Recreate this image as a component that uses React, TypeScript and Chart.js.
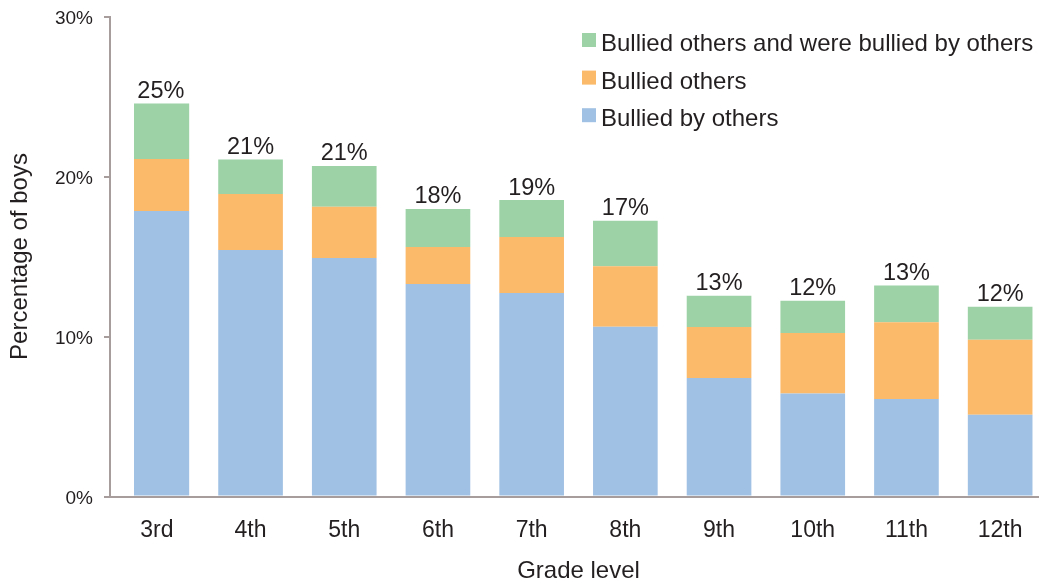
import React, { useEffect, useRef } from "react";
import { Chart, registerables } from "chart.js";

Chart.register(...registerables);

const grades = ["3rd", "4th", "5th", "6th", "7th", "8th", "9th", "10th", "11th", "12th"];
const bulliedByOthers = [17.84, 15.4, 14.9, 13.28, 12.72, 10.61, 7.4, 6.43, 6.09, 5.11];
const bulliedOthers = [3.25, 3.5, 3.21, 2.32, 3.5, 3.78, 3.2, 3.79, 4.8, 4.69];
const bulliedBoth = [3.48, 2.17, 2.55, 2.37, 2.31, 2.85, 1.95, 2.02, 2.29, 2.06];
const totalLabels = ["25%", "21%", "21%", "18%", "19%", "17%", "13%", "12%", "13%", "12%"];
const seriesNames = ["Bullied by others", "Bullied others", "Bullied others and were bullied by others"];
const yTickValues = [0, 10, 20, 30];

const BLUE = "rgb(161,193,228)";
const ORANGE = "rgb(251,185,106)";
const GREEN = "rgb(156,210,166)";
const AXIS = "#a79d9c";
const TEXT = "#231f20";
const FONT = "'Liberation Sans', Arial, sans-serif";

const totalsPlugin = {
  id: "totals",
  afterDatasetsDraw(chart: any) {
    const ctx = chart.ctx;
    const meta = chart.getDatasetMeta(2);
    ctx.save();
    ctx.font = `23.5px ${FONT}`;
    ctx.fillStyle = TEXT;
    ctx.textAlign = "center";
    ctx.textBaseline = "alphabetic";
    meta.data.forEach((el: any, i: number) => {
      const x = i === 0 ? el.x + 4 : el.x;
      ctx.fillText(totalLabels[i], x, el.y - 5.5);
    });
    ctx.restore();
  },
};

const legendPlugin = {
  id: "customLegend",
  afterDraw(chart: any) {
    const ctx = chart.ctx;
    const items = [
      { label: seriesNames[2], color: GREEN },
      { label: seriesNames[1], color: ORANGE },
      { label: seriesNames[0], color: BLUE },
    ];
    ctx.save();
    ctx.font = `24px ${FONT}`;
    ctx.textAlign = "left";
    ctx.textBaseline = "alphabetic";
    items.forEach((it, i) => {
      const baseY = 51 + i * 37.6;
      ctx.fillStyle = it.color;
      ctx.fillRect(582, baseY - 18, 14, 14);
      ctx.fillStyle = TEXT;
      ctx.fillText(it.label, 601, baseY);
    });
    ctx.restore();
  },
};

export default function App() {
  const canvasRef = useRef<HTMLCanvasElement | null>(null);

  useEffect(() => {
    document.documentElement.style.overflow = "hidden";
    document.body.style.overflow = "hidden";
    const canvas = canvasRef.current;
    if (!canvas) return;
    const clip = { left: -24, top: false, right: false, bottom: false } as any;
    const chart = new Chart(canvas, {
      type: "bar",
      data: {
        labels: grades,
        datasets: [
          { label: seriesNames[0], data: bulliedByOthers, backgroundColor: BLUE, clip },
          { label: seriesNames[1], data: bulliedOthers, backgroundColor: ORANGE, clip },
          { label: seriesNames[2], data: bulliedBoth, backgroundColor: GREEN, clip },
        ],
      },
      options: {
        animation: false,
        responsive: false,
        maintainAspectRatio: false,
        layout: { padding: { top: 16.5, right: 13, left: 0, bottom: 0 } },
        datasets: { bar: { categoryPercentage: 1, barPercentage: 0.69 } },
        plugins: {
          legend: { display: false },
          tooltip: { enabled: false },
        },
        scales: {
          x: {
            stacked: true,
            grid: { display: false, drawTicks: false },
            border: { display: true, color: AXIS, width: 2 },
            ticks: { color: TEXT, font: { family: FONT, size: 23 }, padding: 20 },
            title: {
              display: true,
              text: "Grade level",
              color: TEXT,
              font: { family: FONT, size: 24, lineHeight: 1 },
              padding: { top: 0, bottom: -2 },
            },
            afterFit: (scale: any) => {
              scale.height = 84.5;
              scale.paddingLeft = 0;
              scale.paddingRight = 0;
            },
          },
          y: {
            stacked: true,
            min: 0,
            max: 30,
            afterBuildTicks: (scale: any) => {
              scale.ticks = yTickValues.map((v) => ({ value: v }));
            },
            grid: { display: true, drawOnChartArea: false, drawTicks: true, tickLength: 6, color: AXIS, lineWidth: 2 },
            border: { display: true, color: AXIS, width: 2 },
            ticks: {
              color: TEXT,
              font: { family: FONT, size: 19 },
              padding: 11,
              labelOffset: 2,
              callback: (v: any) => `${v}%`,
            },
            title: {
              display: true,
              text: "Percentage of boys",
              color: TEXT,
              font: { family: FONT, size: 24, lineHeight: 1 },
              padding: { top: 8, bottom: 0 },
            },
            afterFit: (scale: any) => {
              scale.width = 110;
              scale.paddingTop = 0;
              scale.paddingBottom = 0;
            },
          },
        },
      },
      plugins: [totalsPlugin, legendPlugin],
    });
    return () => chart.destroy();
  }, []);

  return (
    <div style={{ position: "fixed", left: 0, top: 0, width: 1060, height: 581, background: "#fff" }}>
      <canvas ref={canvasRef} width={1060} height={581} style={{ display: "block", width: 1060, height: 581 }} />
    </div>
  );
}
